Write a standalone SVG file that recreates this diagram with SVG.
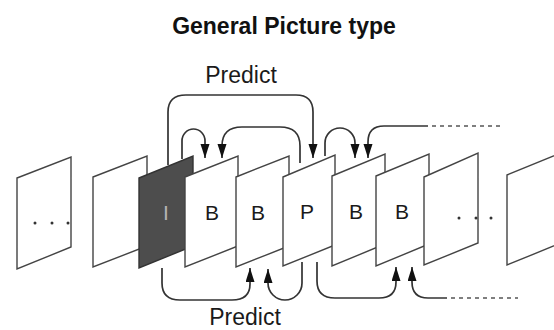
<svg xmlns="http://www.w3.org/2000/svg" width="554" height="330" viewBox="0 0 554 330">
<style>
.frame{fill:#fff;stroke:#444;stroke-width:1.4;stroke-linejoin:miter}
.dark{fill:#4d4d4d;stroke:#333;stroke-width:1.4}
.lbl{font-family:"Liberation Sans",Arial,sans-serif;font-size:21px;fill:#1a1a1a;text-anchor:middle}
.title{font-family:"Liberation Sans",Arial,sans-serif;font-size:23px;font-weight:bold;fill:#111;text-anchor:middle}
.pred{font-family:"Liberation Sans",Arial,sans-serif;font-size:23px;fill:#1a1a1a;text-anchor:middle}
.conn{fill:none;stroke:#333;stroke-width:1.7}
.dash{fill:none;stroke:#555;stroke-width:1.7;stroke-dasharray:4 4}
.dot{fill:#333}
</style>
<defs>
<marker id="ah" markerUnits="userSpaceOnUse" markerWidth="16" markerHeight="10" refX="14" refY="4.5" orient="auto">
<path d="M0,0 L14,4.5 L0,9 z" fill="#111"/>
</marker>
</defs>
<text class="title" x="284" y="34">General Picture type</text>
<text class="pred" x="241" y="83">Predict</text>
<text class="pred" x="245" y="325">Predict</text>
<g id="frame1"><polygon class="frame" points="17,178 71,157 71,247 17,269"/>
<circle class="dot" cx="35" cy="223" r="1.5"/><circle class="dot" cx="52" cy="223" r="1.5"/><circle class="dot" cx="68" cy="223" r="1.5"/></g>
<g id="frame2"><polygon class="frame" points="93,177 147,156 147,246 93,267"/></g>
<g id="frameI"><polygon class="dark" points="139,178 193,156 193,246 139,268"/><text class="lbl" x="166" y="220" style="fill:#b5b5b5">I</text></g>
<g id="frameB1"><polygon class="frame" points="185,177 238,156 238,246 185,267"/><text class="lbl" x="212" y="220">B</text></g>
<g id="frameB2"><polygon class="frame" points="236,177 289,156 289,246 236,267"/><text class="lbl" x="258" y="220">B</text></g>
<g id="frameP"><polygon class="frame" points="283,177 335,155 335,245 283,266"/><text class="lbl" x="307" y="219">P</text></g>
<g id="frameB3"><polygon class="frame" points="332,176 385,154 385,244 332,266"/><text class="lbl" x="356" y="219">B</text></g>
<g id="frameB4"><polygon class="frame" points="376,176 429,154 429,244 376,266"/><text class="lbl" x="402" y="219">B</text></g>
<g id="frame9"><polygon class="frame" points="424,177 478,153 478,243 424,265"/>
<circle class="dot" cx="459" cy="218" r="1.5"/><circle class="dot" cx="476" cy="218" r="1.5"/><circle class="dot" cx="491" cy="218" r="1.5"/></g>
<g id="frame10"><polygon class="frame" points="507,175 561,153 561,243 507,265"/></g>
<g id="connectors">
<path class="conn" d="M168,165 V112 Q168,95 186,95 H296 Q313,95 313,112 V158" marker-end="url(#ah)"/>
<path class="conn" d="M182,159 V141 A11.5,12 0 0 1 205,141 V158" marker-end="url(#ah)"/>
<path class="conn" d="M300,163 V146 Q300,127 280,127 H242 Q222,127 222,146 V158" marker-end="url(#ah)"/>
<path class="conn" d="M325,156 V143 A15,15 0 0 1 355,143 V158" marker-end="url(#ah)"/>
<path class="conn" d="M428,126 H384 Q368,126 368,142 V158" marker-end="url(#ah)"/>
<path class="dash" d="M432,126 H500"/>
<path class="conn" d="M162,268 V283 Q162,300 180,300 H232 Q250,300 250,284 V268" marker-end="url(#ah)"/>
<path class="conn" d="M302,262 V283 A17,17 0 0 1 268,283 V269" marker-end="url(#ah)"/>
<path class="conn" d="M317,262 V281 Q317,298 335,298 H379 Q396,298 396,282 V267" marker-end="url(#ah)"/>
<path class="conn" d="M447,298 H428 Q412,298 412,282 V267" marker-end="url(#ah)"/>
<path class="dash" d="M451,298 H518"/>
</g>
</svg>
